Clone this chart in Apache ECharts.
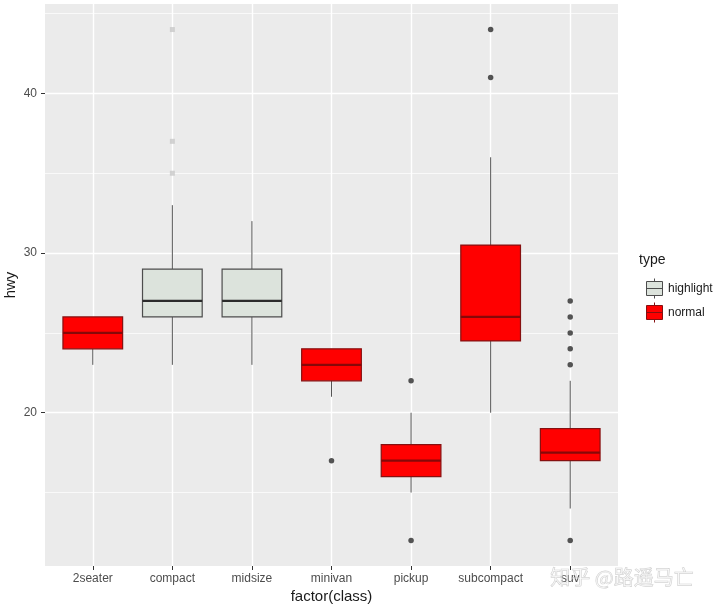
<!DOCTYPE html>
<html>
<head>
<meta charset="utf-8">
<script src="https://cdn.jsdelivr.net/npm/echarts@6/dist/echarts.min.js"></script>
<style>html,body{margin:0;padding:0;background:#fff}#c{width:720px;height:609px}</style>
</head>
<body>
<div id="c"></div>
<script>
// ---- data ----
const categories = ['2seater', 'compact', 'midsize', 'minivan', 'pickup', 'subcompact', 'suv'];
const highlightClasses = ['compact', 'midsize'];
// [lower whisker, Q1, median, Q3, upper whisker]
const boxStats = {
  '2seater':    [23, 24, 25, 26, 26],
  'compact':    [23, 26, 27, 29, 33],
  'midsize':    [23, 26, 27, 29, 32],
  'minivan':    [21, 22, 23, 24, 24],
  'pickup':     [15, 16, 17, 18, 20],
  'subcompact': [20, 24.5, 26, 30.5, 36],
  'suv':        [14, 17, 17.5, 19, 22]
};
const outliers = {
  '2seater': [],
  'compact': [35, 37, 44],
  'midsize': [],
  'minivan': [17],
  'pickup': [12, 22],
  'subcompact': [41, 44],
  'suv': [12, 23, 24, 25, 26, 27]
};
const yMajorTicks = [20, 30, 40];
const yMinorTicks = [15, 25, 35, 45];
const yRange = [10.4, 45.6];
const xRange = [0.4, 7.6];
const xTickValues = [1, 2, 3, 4, 5, 6, 7];

// ---- build series data ----
function rowsFor(isHighlight) {
  const rows = [];
  categories.forEach((c, i) => {
    if (highlightClasses.includes(c) === isHighlight) rows.push([i].concat(boxStats[c]));
  });
  return rows;
}
function outlierRows(isHighlight) {
  const rows = [];
  categories.forEach((c, i) => {
    if (highlightClasses.includes(c) === isHighlight) outliers[c].forEach(v => rows.push([i, v]));
  });
  return rows;
}

const styles = {
  highlight: { fill: '#DCE3DC', border: '#4d4d4d', median: '#2b2b2b', whisker: '#555555' },
  normal:    { fill: '#FF0000', border: '#861010', median: '#870808', whisker: '#555555' }
};

function makeRender(st) {
  return function (params, api) {
    const x = api.value(0);
    const lo = api.coord([x, api.value(1)]);
    const q1 = api.coord([x, api.value(2)]);
    const md = api.coord([x, api.value(3)]);
    const q3 = api.coord([x, api.value(4)]);
    const hi = api.coord([x, api.value(5)]);
    const bw = api.size([1, 0])[0] * 0.75;
    const cx = lo[0];
    return {
      type: 'group',
      children: [
        { type: 'line', shape: { x1: cx, y1: lo[1], x2: cx, y2: q1[1] }, style: { stroke: st.whisker, lineWidth: 1 } },
        { type: 'line', shape: { x1: cx, y1: q3[1], x2: cx, y2: hi[1] }, style: { stroke: st.whisker, lineWidth: 1 } },
        { type: 'rect', shape: { x: cx - bw / 2, y: q3[1], width: bw, height: q1[1] - q3[1] }, style: { fill: st.fill, stroke: st.border, lineWidth: 1.2 } },
        { type: 'line', shape: { x1: cx - bw / 2, y1: md[1], x2: cx + bw / 2, y2: md[1] }, style: { stroke: st.median, lineWidth: 2.2 } }
      ]
    };
  };
}

const legendIcon = 'path://M0,3H16V17H0Z M0,10H16 M8,0V3 M8,17V20';

const chart = echarts.init(document.getElementById('c'), null, { renderer: 'canvas' });
const font = '"Liberation Sans", Arial, sans-serif';
chart.setOption({
  animation: false,
  backgroundColor: '#ffffff',
  textStyle: { fontFamily: font },
  grid: [
    { left: 45, top: 4, width: 573, height: 562, show: true, backgroundColor: '#EBEBEB', borderWidth: 0, containLabel: false, outerBoundsMode: 'none' },
    { left: 53, top: 4, width: 557, height: 562, containLabel: false, outerBoundsMode: 'none' }
  ],
  xAxis: [
    {
      gridIndex: 0, type: 'value', min: xRange[0], max: xRange[1],
      axisLine: { show: false },
      axisTick: { show: false, customValues: xTickValues },
      axisLabel: { show: false, customValues: xTickValues },
      splitLine: { show: true, lineStyle: { color: '#ffffff', width: 1.4 } }
    },
    {
      gridIndex: 1, type: 'category', data: categories,
      axisLine: { show: false },
      axisTick: { show: true, alignWithLabel: true, interval: 0, length: 4, lineStyle: { color: '#333333' } },
      axisLabel: { color: '#4D4D4D', fontSize: 12, margin: 7, interval: 0, hideOverlap: false, fontFamily: font },
      splitLine: { show: false },
      name: 'factor(class)', nameLocation: 'middle', nameGap: 23, nameMoveOverlap: false,
      nameTextStyle: { color: '#1A1A1A', fontSize: 15, fontFamily: font }
    }
  ],
  yAxis: [
    {
      gridIndex: 0, type: 'value', min: yRange[0], max: yRange[1],
      axisLine: { show: false },
      axisTick: { show: true, length: 4, customValues: yMajorTicks, lineStyle: { color: '#333333' } },
      axisLabel: { color: '#4D4D4D', fontSize: 12, margin: 8, customValues: yMajorTicks, fontFamily: font },
      splitLine: { show: true, lineStyle: { color: '#ffffff', width: 1.4 } },
      name: 'hwy', nameLocation: 'middle', nameGap: 27, nameMoveOverlap: false,
      nameTextStyle: { color: '#1A1A1A', fontSize: 15, fontFamily: font }
    },
    {
      gridIndex: 0, type: 'value', min: yRange[0], max: yRange[1], position: 'left',
      axisLine: { show: false },
      axisTick: { show: false, customValues: yMinorTicks },
      axisLabel: { show: false, customValues: yMinorTicks },
      splitLine: { show: true, lineStyle: { color: '#ffffff', width: 0.7 } }
    },
    { gridIndex: 1, type: 'value', min: yRange[0], max: yRange[1], show: false }
  ],
  legend: {
    orient: 'vertical', left: 641, top: 273,
    itemWidth: 17, itemHeight: 20, itemGap: 3,
    textStyle: { color: '#1A1A1A', fontSize: 12, fontFamily: font },
    data: [
      { name: 'highlight', icon: legendIcon, itemStyle: { color: styles.highlight.fill, borderColor: styles.highlight.border, borderWidth: 1 } },
      { name: 'normal', icon: legendIcon, itemStyle: { color: styles.normal.fill, borderColor: styles.normal.border, borderWidth: 1 } }
    ]
  },
  graphic: [
    { type: 'text', left: 639, top: 253, style: { text: 'type', font: '14px "Liberation Sans", Arial, sans-serif', fill: '#1A1A1A' } },
    { type: 'text', left: 550, top: 567, z: 100, style: { text: '知乎 @路遥马亡', font: '20px "Noto Sans CJK SC"', fill: 'rgba(245,245,245,0.3)', stroke: 'rgba(175,175,175,0.6)', lineWidth: 0.7 } }
  ],
  series: [
    {
      name: 'highlight', type: 'custom', xAxisIndex: 1, yAxisIndex: 2,
      renderItem: makeRender(styles.highlight),
      encode: { x: 0, y: [1, 2, 3, 4, 5] },
      itemStyle: { color: styles.highlight.fill, borderColor: styles.highlight.border },
      data: rowsFor(true)
    },
    {
      name: 'normal', type: 'custom', xAxisIndex: 1, yAxisIndex: 2,
      renderItem: makeRender(styles.normal),
      encode: { x: 0, y: [1, 2, 3, 4, 5] },
      itemStyle: { color: styles.normal.fill, borderColor: styles.normal.border },
      data: rowsFor(false)
    },
    {
      name: 'highlight', type: 'scatter', xAxisIndex: 1, yAxisIndex: 2,
      symbol: 'rect', symbolSize: 5, itemStyle: { color: '#C8C8C8' },
      data: outlierRows(true)
    },
    {
      name: 'normal', type: 'scatter', xAxisIndex: 1, yAxisIndex: 2,
      symbol: 'circle', symbolSize: 5.5, itemStyle: { color: '#2a2a2a' },
      data: outlierRows(false)
    }
  ]
});
</script>
</body>
</html>
